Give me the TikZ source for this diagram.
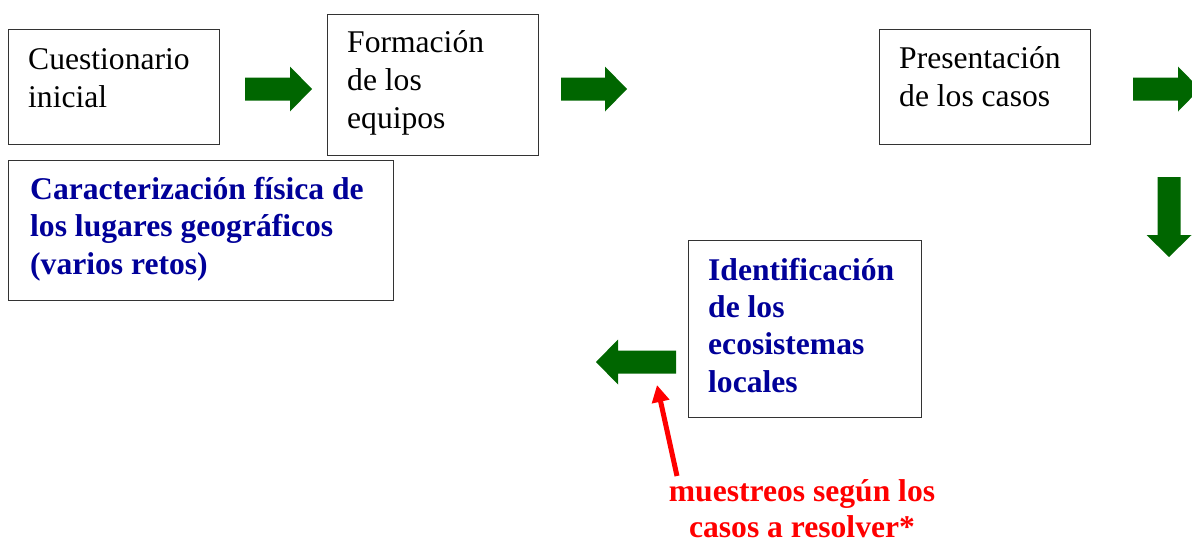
\documentclass[tikz,border=0pt]{standalone}
\usepackage{fontspec}
\setmainfont{Liberation Serif}
\usetikzlibrary{arrows.meta}
\definecolor{arrowgreen}{HTML}{006600}
\definecolor{navy}{HTML}{000099}
\tikzset{
  box/.style={draw=black!80, line width=1.2pt, anchor=north west, inner sep=0pt},
  plain/.style={anchor=base west, align=left, inner sep=0pt, font=\fontsize{31.6}{38}\selectfont},
  bluetxt/.style={plain, text=navy, font=\fontsize{31.6}{37.3}\selectfont\bfseries},
  redtxt/.style={anchor=base, align=center, inner sep=0pt, text=red, font=\fontsize{31.6}{35.5}\selectfont\bfseries},
  pics/garrow/.style={code={
    \fill[arrowgreen] (0,-11.5) -- ({#1-22},-11.5) -- ({#1-22},-22.5) -- (#1,0)
      -- ({#1-22},22.5) -- ({#1-22},11.5) -- (0,11.5) -- cycle;}},
}
\begin{document}
\begin{tikzpicture}[x=1pt,y=-1pt]
\useasboundingbox (0,0) rectangle (1192,541);
\clip (0,0) rectangle (1192,541);
% boxes
\node[box, minimum width=211, minimum height=115] (b1) at (8,29) {};
\node[box, minimum width=211, minimum height=141] (b2) at (327,14) {};
\node[box, minimum width=211, minimum height=115] (b3) at (879,29) {};
\node[box, minimum width=385, minimum height=140] (b4) at (8,160) {};
\node[box, minimum width=233, minimum height=177] (b5) at (688,240) {};
% texts (base anchor = baseline of last line)
\node[plain] (t1) at (28,107) {Cuestionario\\inicial};
\node[plain] (t2) at (347,128) {Formación\\de los\\equipos};
\node[plain] (t3) at (899,106) {Presentación\\de los casos};
\node[bluetxt] (t4) at (30,274) {Caracterización física de\\los lugares geográficos\\(varios retos)};
\node[bluetxt] (t5) at (708,392) {Identificación\\de los\\ecosistemas\\locales};
\node[redtxt] (t6) at (802,537) {muestreos según los\\casos a resolver*};
% green block arrows
\pic at (245,89) {garrow=67};
\pic at (561,89) {garrow=66};
\pic at (1133,89) {garrow=67};
\pic[rotate=-90] at (1169,177) {garrow=80};
\pic[rotate=180] at (676,362) {garrow=80};
% red arrow
\coordinate (rs) at (677,476);
\coordinate (re) at (657,385);
\draw[red, line width=5pt, -{Triangle[width=17pt,length=17pt]}] (rs) -- (re);
\end{tikzpicture}
\end{document}
